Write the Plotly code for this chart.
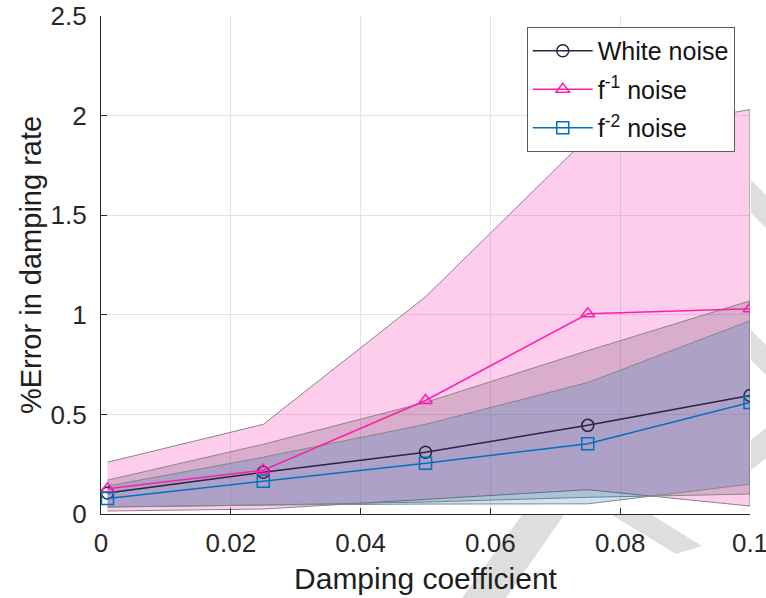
import plotly.graph_objects as go

# ---- data ----
damping = [0.001, 0.025, 0.05, 0.075, 0.1]

white_mean = [0.105, 0.21, 0.31, 0.445, 0.595]
white_upper = [0.17, 0.35, 0.56, 0.82, 1.07]
white_lower = [0.035, 0.045, 0.06, 0.084, 0.10]

f1_mean = [0.127, 0.22, 0.57, 1.005, 1.03]
f1_upper = [0.26, 0.45, 1.09, 1.89, 2.03]
f1_lower = [0.015, 0.025, 0.075, 0.122, 0.04]

f2_mean = [0.078, 0.165, 0.255, 0.353, 0.56]
f2_upper = [0.14, 0.285, 0.45, 0.66, 0.97]
f2_lower = [0.035, 0.045, 0.05, 0.051, 0.15]

names = ["White noise", "f<sup>-1</sup> noise", "f<sup>-2</sup> noise"]
x_ticks = [0, 0.02, 0.04, 0.06, 0.08, 0.1]
x_labels = ["0", "0.02", "0.04", "0.06", "0.08", "0.1"]
y_ticks = [0, 0.5, 1, 1.5, 2, 2.5]
y_labels = ["0", "0.5", "1", "1.5", "2", "2.5"]

# ---- styles ----
line_cols = ["rgb(45,35,60)", "rgb(255,30,170)", "rgb(0,114,189)"]
fill_cols = ["rgba(30,20,40,0.17)", "rgba(255,20,165,0.21)", "rgba(0,114,189,0.2)"]
symbols = ["circle-open", "triangle-up-open", "square-open"]
FONT = "Liberation Sans, Arial"

fig = go.Figure()

bands = [(f1_upper, f1_lower, 1), (white_upper, white_lower, 0), (f2_upper, f2_lower, 2)]
for up, lo, i in bands:
    fig.add_trace(go.Scatter(
        x=damping + damping[::-1], y=up + lo[::-1],
        fill="toself", fillcolor=fill_cols[i], mode="lines",
        line=dict(color="rgb(135,135,135)", width=1),
        showlegend=False, hoverinfo="skip"))

for i, ys in enumerate([white_mean, f1_mean, f2_mean]):
    fig.add_trace(go.Scatter(
        x=damping, y=ys, name=names[i], mode="lines+markers",
        legendgroup=f"g{i}",
        line=dict(color=line_cols[i], width=1.5),
        marker=dict(symbol=symbols[i], size=12, color=line_cols[i],
                    line=dict(width=1.5, color=line_cols[i]))))

# ---- faint watermark strokes, only outside the axes area ----
W, H = 766, 598
L, R, T, B = 101, 16, 16, 84
pw, ph = W - L - R, H - T - B


def poly(pts):
    s = " L".join(f"{(x - L) / pw:.4f},{(H - B - y) / ph:.4f}" for x, y in pts)
    return "M" + s + " Z"


wm = dict(type="path", xref="paper", yref="paper", layer="below",
          fillcolor="rgb(222,222,222)", line=dict(width=0))
fig.add_shape(path=poly([(462, 598), (506, 598), (564, 515), (522, 515)]), **wm)
fig.add_shape(path=poly([(612, 515), (652, 515), (702, 546), (676, 554)]), **wm)
fig.add_shape(path=poly([(751, 180), (766, 195), (766, 228), (751, 213)]), **wm)
fig.add_shape(path=poly([(751, 330), (766, 345), (766, 375), (751, 360)]), **wm)
fig.add_shape(path=poly([(751, 440), (766, 428), (766, 458), (751, 470)]), **wm)

axis_common = dict(
    showline=True, linecolor="rgb(38,38,38)", linewidth=1.2,
    ticks="inside", ticklen=6, tickwidth=1, tickcolor="rgb(38,38,38)",
    showgrid=True, gridcolor="rgb(228,228,228)", gridwidth=1,
    zeroline=False, mirror=False, automargin=False,
    ticklabeloverflow="allow",
    tickfont=dict(family=FONT, size=26, color="rgb(40,40,40)"),
)

fig.update_layout(
    width=W, height=H,
    margin=dict(l=L, r=R, t=T, b=B),
    paper_bgcolor="white", plot_bgcolor="white",
    xaxis=dict(range=[0, 0.1], tickvals=x_ticks, ticktext=x_labels,
               title=dict(text="Damping coefficient", standoff=10,
                          font=dict(family=FONT, size=30, color="rgb(30,30,30)")),
               ticklabelstandoff=6, **axis_common),
    yaxis=dict(range=[0, 2.5], tickvals=y_ticks, ticktext=y_labels,
               title=dict(text="%Error in damping rate", standoff=0,
                          font=dict(family=FONT, size=29, color="rgb(30,30,30)")),
               ticklabelstandoff=8, **axis_common),
    legend=dict(x=0.656, y=0.978, xanchor="left", yanchor="top",
                bgcolor="white", bordercolor="rgb(90,90,90)", borderwidth=1,
                font=dict(family=FONT, size=25, color="rgb(20,20,20)"),
                itemwidth=60, tracegroupgap=3),
    showlegend=True,
)

fig.write_html("out.html")
